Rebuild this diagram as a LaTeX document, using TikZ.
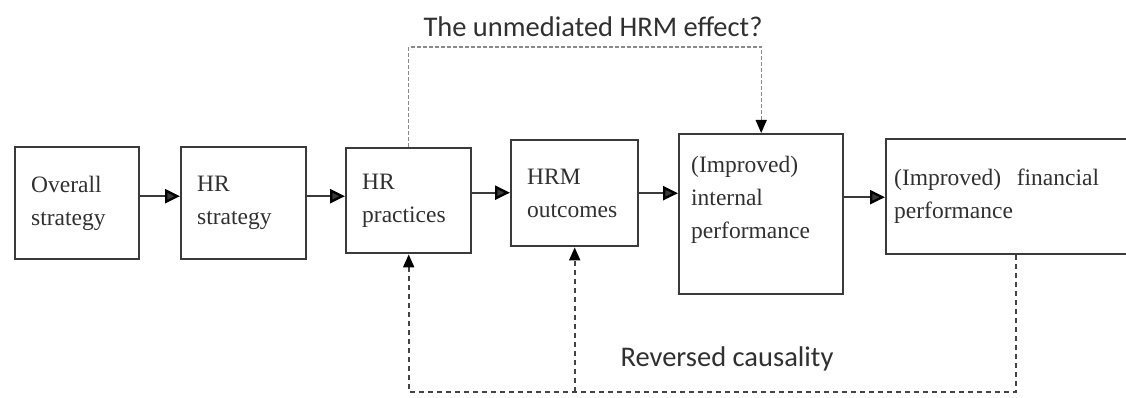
\documentclass[tikz,border=0pt]{standalone}
\usepackage{fontspec}
\setmainfont{Liberation Serif}
\newfontfamily\labelfont{Carlito}
\usetikzlibrary{arrows,arrows.meta}
\definecolor{boxline}{HTML}{3A3A3A}
\definecolor{dashline}{HTML}{444444}
\definecolor{lightdash}{HTML}{8A8A8A}
\definecolor{textgray}{HTML}{303030}

\tikzset{
  stage/.style={draw=boxline, line width=2.4pt, rectangle, anchor=north west,
    align=left, inner xsep=16pt, inner ysep=0pt, text=textgray,
    font=\fontsize{23.5}{33}\selectfont},
  flow/.style={-{Triangle[length=15pt,width=14pt,color=black]}, line width=2.4pt, color=boxline},
  reverse/.style={-{Triangle[length=13pt,width=11pt,color=black]}, line width=1.8pt, draw=dashline,
    dash pattern=on 5pt off 4pt},
  unmediated/.style={-{Triangle[length=13pt,width=11pt,color=black]}, line width=1.3pt, draw=lightdash,
    dash pattern=on 4pt off 2pt},
  note/.style={font=\labelfont\fontsize{28.5}{32}\selectfont, text=textgray}
}

\begin{document}
\begin{tikzpicture}[x=1pt,y=-1pt]
      \useasboundingbox (0,0) rectangle (1126,398);

      \node[stage, text width=92pt, minimum height=112pt] (overall) at (14,146) {Overall\\strategy};
      \node[stage, text width=93pt, minimum height=112pt] (hrstrat) at (180,146) {HR\\strategy};
      \node[stage, text width=93pt, minimum height=105pt] (hrprac) at (345,147) {HR\\practices};
      \node[stage, text width=95pt, minimum height=106pt] (hrm) at (510,139) {HRM\\outcomes};
      \node[stage, inner xsep=12pt, text width=140pt, minimum height=160pt] (internal) at (678,133) {(Improved)\\internal\\performance\\\mbox{}};
      \node[stage, inner xsep=8pt, text width=244pt, minimum height=115pt] (financial) at (885,138) {(Improved)~ financial\\performance};

      \coordinate (effect) at (585,47);
      \coordinate (reversed) at (720,392);
      \node[note] (effectlabel) at (593,27) {The unmediated HRM effect?};
      \node[note] (reversedlabel) at (727,359) {Reversed causality};

      \path[flow]
      ([yshift=7pt]overall.east) edge ([yshift=7pt]overall.east -| hrstrat.west)
      ([yshift=7pt]hrstrat.east) edge ([yshift=7pt]hrstrat.east -| hrprac.west)
      ([yshift=8pt]hrprac.east) edge ([yshift=8pt]hrprac.east -| hrm.west)
      (hrm.east) edge (hrm.east -| internal.west)
      ([yshift=17pt]internal.east) edge ([yshift=17pt]internal.east -| financial.west)
      ;

      \draw[unmediated] (hrprac.north) |- (effect) -| (internal.north);
      \draw[reverse] (financial.south) |- (reversed) -| (hrprac.south);
      \draw[reverse] (reversed -| hrm.south) -- (hrm.south);
    \end{tikzpicture}
\end{document}
